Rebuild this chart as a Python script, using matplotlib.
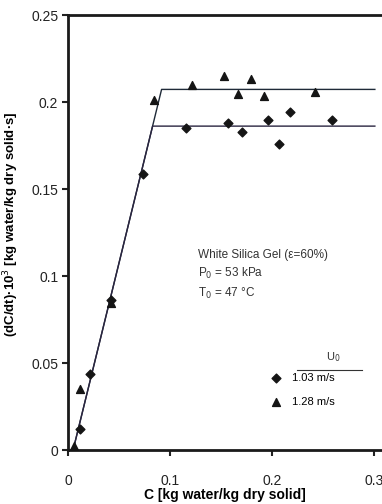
import numpy as np
import matplotlib.pyplot as plt

plt.rcParams['font.family'] = ['Liberation Sans', 'DejaVu Sans']

# U0 = 1.03 m/s (diamonds)
c_103 = [0.0118, 0.0216, 0.0422, 0.0738, 0.1157, 0.157, 0.171, 0.1957, 0.2072, 0.218, 0.2588]
r_103 = [0.0119, 0.0435, 0.0862, 0.1586, 0.1849, 0.1881, 0.183, 0.1897, 0.1762, 0.1944, 0.1897]
# U0 = 1.28 m/s (triangles)
c_128 = [0.0059, 0.0121, 0.0422, 0.0843, 0.1216, 0.153, 0.1667, 0.1797, 0.192, 0.2418]
r_128 = [0.0023, 0.0349, 0.0843, 0.2015, 0.2098, 0.215, 0.2046, 0.213, 0.2036, 0.206]

# fitted lines: falling-rate line then constant-rate plateau
fit_103_x = [0.005, 0.0830, 0.301]
fit_103_y = [0.0, 0.1862, 0.1862]
fit_128_x = [0.005, 0.0918, 0.301]
fit_128_y = [0.0, 0.2073, 0.2073]

fig = plt.figure(figsize=(3.82, 5.04), dpi=100)
ax = fig.add_axes([0.178, 0.107, 0.822, 0.863])

ax.plot(fit_128_x, fit_128_y, color='#1f2a38', lw=1.0)
ax.plot(fit_103_x, fit_103_y, color='#2a2540', lw=1.0)
ax.scatter(c_103, r_103, marker='D', s=20, color='#151515', zorder=3, label='1.03 m/s')
ax.scatter(c_128, r_128, marker='^', s=32, color='#151515', zorder=3, label='1.28 m/s')

ax.set_xlim(0, 0.308)
ax.set_ylim(0, 0.25)
ax.set_xticks([0, 0.1, 0.2, 0.3])
ax.set_xticklabels(['0', '0.1', '0.2', '0.3'])
ax.set_yticks([0, 0.05, 0.1, 0.15, 0.2, 0.25])
ax.set_yticklabels(['0', '0.05', '0.1', '0.15', '0.2', '0.25'])
ax.tick_params(axis='both', direction='out', length=4, width=1.5, labelsize=10, colors='#222222')
ax.tick_params(axis='x', pad=13)
ax.tick_params(axis='y', pad=3)
ax.spines['right'].set_visible(False)
for s in ['left', 'bottom', 'top']:
    ax.spines[s].set_linewidth(2.0)
    ax.spines[s].set_color('#1a1a1a')

ax.set_xlabel('C [kg water/kg dry solid]', fontsize=10, fontweight='bold', labelpad=0)
ax.set_ylabel('(dC/dt)·10$^3$ [kg water/kg dry solid·s]', fontsize=9.5, fontweight='bold')
ax.yaxis.set_label_coords(-0.15, 0.52)

ax.text(0.128, 0.1105, 'White Silica Gel (ε=60%)', fontsize=8.5, color='#333333')
ax.text(0.128, 0.0995, 'P$_0$ = 53 kPa', fontsize=8.5, color='#333333')
ax.text(0.128, 0.0880, 'T$_0$ = 47 °C', fontsize=8.5, color='#333333')

# legend with underlined title
ax.text(0.260, 0.0535, 'U$_0$', fontsize=8, color='#333333', ha='center', va='center')
ax.plot([0.2245, 0.2885], [0.0458, 0.0458], color='#333333', lw=0.8)
ax.legend(loc='upper left', bbox_to_anchor=(0.645, 0.177), frameon=False, fontsize=8,
          handlelength=1.0, handletextpad=0.9, labelspacing=1.25, borderaxespad=0, borderpad=0)

fig.savefig('out.png', dpi=100)
